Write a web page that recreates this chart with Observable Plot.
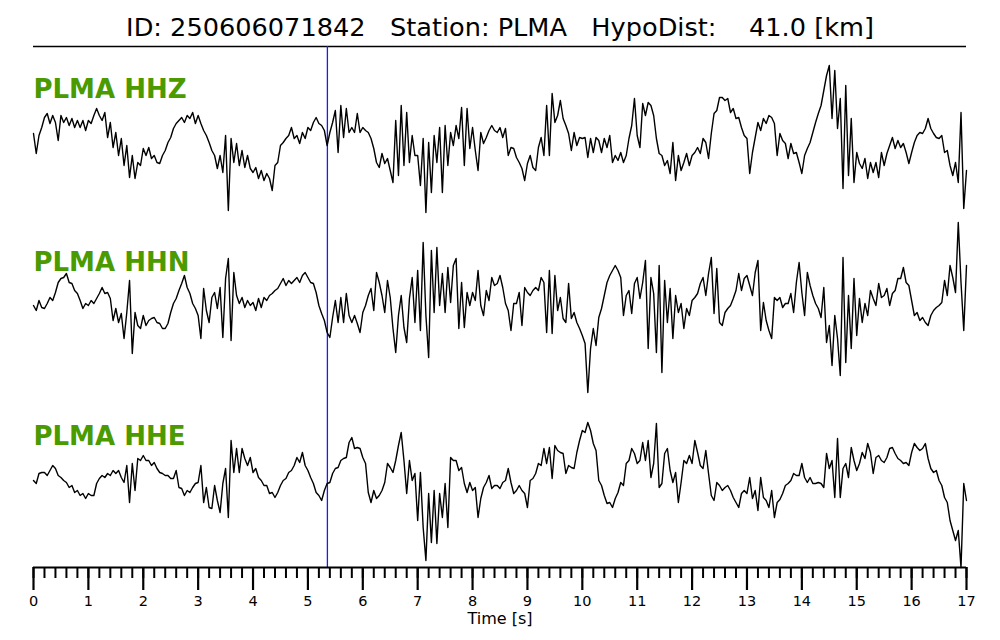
<!DOCTYPE html>
<html><head><meta charset="utf-8">
<script src="https://cdn.jsdelivr.net/npm/d3@7"></script>
<script src="https://cdn.jsdelivr.net/npm/@observablehq/plot@0.6"></script>
<style>
body{margin:0;background:#fff;font-family:"DejaVu Sans",sans-serif;}
#title{height:40px;box-sizing:border-box;padding-top:15px;font-size:25.6px;line-height:25px;text-align:center;white-space:pre;color:#000;}
</style></head><body>
<div id="title"></div>
<div id="chart"></div>
<script>
// ---- metadata ----
const eventId = "250606071842";
const station = "PLMA";
const hypoDist = 41.0;
const channels = ["HHZ", "HHN", "HHE"];
const sampleStep = 0.05;          // seconds between samples
const pickTime = [5.355];         // P pick (s)
const majorTicks = [0,1,2,3,4,5,6,7,8,9,10,11,12,13,14,15,16,17];
const minorPerSecond = 5;

// ---- waveform amplitudes (normalized, 1 sample every 0.05 s) ----
const hhz = [
7,-13,5,13,23,27,17,25,18,0,25,18,23,15,22,13,20,13,20,10,
20,17,25,32,25,20,28,3,18,-7,8,-15,2,-25,-5,-37,-15,-38,-22,-25,
-8,-15,-7,-18,-15,-22,-23,-15,-10,-2,3,12,17,20,23,18,25,22,28,17,
25,17,10,5,-2,-10,-15,-28,-15,-32,5,-70,2,-22,-3,-25,-10,-27,-15,-28,
-32,-27,-38,-30,-40,-33,-38,-50,-25,-22,-5,-2,2,5,13,2,5,-3,8,2,
13,10,18,23,17,15,10,-5,8,18,30,-12,35,3,32,8,13,8,27,8,
13,10,8,2,-8,-22,-27,-13,-23,-18,-30,-42,20,-35,35,-25,28,-22,5,-15,
-15,-45,2,-72,-2,-52,5,-22,13,-52,15,-25,8,-5,15,2,33,-25,32,-8,
13,-10,-30,8,-3,3,10,15,10,8,13,3,12,-15,-7,-8,-17,-22,-28,-40,
-23,-15,-27,-30,-7,3,-15,35,-15,47,18,25,40,22,15,7,-10,8,-5,3,
2,3,-17,2,-12,3,0,-12,2,-7,5,-22,-15,-20,-12,-22,-15,2,15,42,
5,-7,37,25,38,35,25,2,-13,-15,-25,-20,-33,-2,-40,-15,-30,-22,-13,-25,
-15,-12,-7,-13,2,-2,-18,7,27,30,43,43,40,42,28,32,22,23,13,5,
2,-33,-12,3,18,10,22,17,25,23,17,-15,7,0,-3,-18,-3,-13,-12,-22,
-33,-15,-8,-2,8,18,27,35,50,65,75,22,70,12,42,-48,55,-35,22,-42,
-12,-23,-28,-18,-38,-22,-32,-22,-37,-12,-25,-13,-5,3,-8,0,-7,-3,-12,-23,
-12,-2,5,8,7,12,22,12,7,3,2,5,-12,-10,-25,-35,-22,-42,28,-68,
-30
];
const hhn = [
-5,-10,0,-7,-8,-3,3,0,8,18,22,23,27,18,17,10,7,0,-8,-3,
-5,0,-3,2,7,13,7,8,2,-20,-8,-22,-13,-38,-12,20,-53,-12,-25,-28,
-15,-25,-20,-18,-17,-22,-23,-28,-28,-23,-12,-3,2,10,17,25,13,7,-3,-8,
-15,-38,12,-10,-22,3,8,-8,13,-37,22,42,-40,28,5,-3,3,-7,0,-5,
-2,-10,2,-7,3,0,5,7,10,12,17,22,15,20,17,20,23,18,25,28,
23,18,17,8,-5,-13,-20,-32,-37,-17,0,-22,3,-22,7,-15,-22,-15,-23,-32,
-12,-5,5,12,-10,28,18,5,-12,20,3,-28,-52,-15,5,-27,-42,2,23,-22,
30,-30,58,-15,-57,50,-12,53,-5,27,-12,33,-2,35,42,-28,18,-27,8,-5,
8,0,30,-5,-15,10,0,23,15,17,25,13,-3,-10,-30,-3,-3,8,-25,13,
8,5,10,13,10,23,18,-32,30,-33,25,-10,3,-18,-22,17,-18,-12,-22,-28,
-35,-43,-92,-48,-28,-45,-17,-8,5,18,25,30,35,30,23,-15,5,10,-13,17,
23,2,18,40,-48,23,7,-52,35,-72,20,-22,12,-38,5,-12,-3,-28,-8,-15,
0,3,7,17,23,5,27,43,-13,32,-22,-25,-12,-8,-5,2,10,27,10,22,
25,15,5,28,40,-30,-2,-20,-30,-38,3,0,3,-7,-3,-3,7,-12,18,38,
8,-15,28,15,5,-3,-8,-17,13,-42,-25,-65,-15,-38,-75,43,-62,5,-48,22,
-35,2,-22,-3,-15,10,2,-5,17,3,5,12,-5,7,10,22,22,33,18,15,
0,-15,-12,-20,-17,-22,-25,-15,-10,-7,-5,-2,20,5,35,23,8,78,18,-30,
35
];
const hhe = [
-5,-8,2,3,3,0,5,10,7,0,-2,-5,-7,-12,-10,-17,-15,-20,-18,-23,
-18,-20,-20,-8,-3,0,-2,2,0,5,2,5,-2,-7,10,-27,12,-15,17,15,
20,15,15,10,13,7,3,2,0,0,-3,-3,5,-12,-13,-20,-15,-17,-12,-8,
-7,10,-27,-12,-32,-33,-10,-25,-37,-8,7,-42,35,3,27,3,27,17,10,18,
3,7,-2,-5,-10,-10,-18,-17,-22,-17,-10,-5,-3,3,5,10,18,13,23,10,
5,-2,-8,-17,-20,-25,-15,-8,-7,2,7,8,15,17,18,33,38,27,28,27,
18,12,-17,-27,-15,-23,-20,-15,-7,12,8,3,15,30,43,15,-18,15,-5,2,
-45,3,-52,-85,-18,-67,-15,-68,-18,-42,-8,-52,18,15,15,5,8,-8,-17,-7,
-15,-12,-42,-23,-12,-7,0,-13,-10,-10,-13,-7,-5,7,-7,-18,-15,-10,-15,-18,
-32,-5,-3,2,12,10,27,12,28,-3,30,25,23,22,2,10,8,7,23,35,
45,43,53,45,32,25,-5,-10,-20,-28,-27,-32,-23,-17,-7,-10,12,15,27,22,
12,15,33,15,35,-2,12,52,-12,-8,22,27,5,-7,3,-27,-7,15,12,20,
12,35,23,10,7,25,2,-20,-25,-7,-10,-15,-12,-10,-15,-22,-27,-32,-18,-15,
-18,-2,-23,-15,-35,-2,-22,-25,-32,-15,-42,-27,-24,-18,-10,-8,-5,2,0,0,
12,-2,-7,-2,-8,-8,-7,-8,-12,22,7,15,-22,37,-22,7,12,-2,28,15,
5,12,23,17,32,23,2,18,20,15,13,18,27,28,22,17,15,12,13,10,
23,32,28,25,27,32,17,7,3,5,-5,-10,-22,-27,-45,-55,-65,-55,-92,-8,
-25
];
const series = [hhz, hhn, hhe];

// ---- layout ----
const plotH = 521, mTop = 6, mBottom = 73;
const panelH = plotH / 3;
const traceBase = [427, 267, 92];   // vertical placement of each trace
const majorLen = 23, minorLen = 11, labelGap = 28; // px below the axis (y unit = 1px)

document.getElementById("title").textContent =
  `ID: ${eventId}   Station: ${station}   HypoDist:    ${hypoDist.toFixed(1)} [km]`;

const rows = channels.flatMap((ch, k) =>
  series[k].map((v, i) => ({ch, t: i * sampleStep, y: traceBase[k] + v})));

const minorTicks = d3.range(0, 17 * minorPerSecond + 1).map(i => i / minorPerSecond);

const chart = Plot.plot({
  width: 1000,
  height: mTop + plotH + mBottom,
  marginTop: mTop, marginBottom: mBottom, marginLeft: 33, marginRight: 34,
  x: {domain: [0, 17], label: null, axis: null},
  y: {domain: [0, plotH], axis: null},
  style: {fontFamily: "DejaVu Sans", background: "white", color: "black"},
  marks: [
    Plot.ruleY([plotH], {stroke: "black", strokeWidth: 1.6}),
    Plot.ruleX(pickTime, {y1: 0, y2: plotH, stroke: "#1a1aff", strokeWidth: 1.3}),
    Plot.line(rows, {x: "t", y: "y", z: "ch", stroke: "black", strokeWidth: 1.4, strokeLinejoin: "round"}),
    Plot.text(channels, {
      x: () => 0,
      y: (d, i) => plotH - i * panelH - 43,
      text: d => `${station} ${d}`,
      textAnchor: "start", lineAnchor: "middle",
      fill: "#4a9a00", fontWeight: "bold", fontSize: 26
    }),
    // x axis: line, minor and major ticks, labels
    Plot.ruleX(minorTicks, {y1: 0, y2: -minorLen, stroke: "black", strokeWidth: 2}),
    Plot.ruleX(majorTicks, {y1: 0, y2: -majorLen, stroke: "black", strokeWidth: 2.2}),
    Plot.ruleY([0], {stroke: "black", strokeWidth: 2}),
    Plot.text(majorTicks, {x: d => d, y: () => -labelGap, text: d => String(d), lineAnchor: "top", fontSize: 14.5}),
    Plot.text(["Time [s]"], {frameAnchor: "bottom", dy: 45, lineAnchor: "top", fontSize: 16})
  ]
});
document.getElementById("chart").appendChild(chart);
</script>
</body></html>
